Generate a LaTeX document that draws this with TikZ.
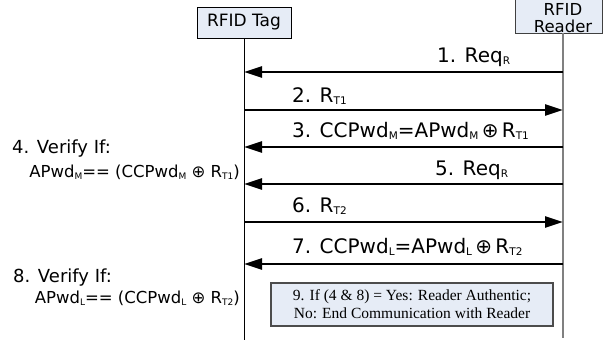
\documentclass[tikz,border=0pt]{standalone}
\usepackage{fontspec}
\setmainfont{DejaVu Sans}
\newfontfamily\boxserif{Liberation Serif}
\usetikzlibrary{arrows.meta}
\definecolor{boxblue}{RGB}{230,236,246}
\definecolor{lifegray}{RGB}{128,128,128}
\newcommand{\sbA}[1]{\raisebox{-2.5pt}{\fontsize{10.5}{10.5}\selectfont #1}}
\newcommand{\sbB}[1]{\raisebox{-2pt}{\fontsize{9}{9}\selectfont #1}}
\begin{document}
\begin{tikzpicture}[x=1pt,y=-1pt,
  actor/.style={draw, fill=boxblue, line width=1pt, inner sep=0pt},
  msg/.style={line width=2.5pt, -{Triangle[length=18pt,width=11pt]}},
  lbl/.style={anchor=base west, inner sep=0pt, font=\fontsize{20}{24}\selectfont},
  side/.style={anchor=base west, inner sep=0pt, font=\fontsize{18}{20}\selectfont},
  formula/.style={anchor=base east, inner sep=0pt, font=\fontsize{16.5}{20}\selectfont},
  boxtxt/.style={anchor=base, inner sep=0pt, font=\fontsize{16.5}{19}\selectfont}
]
\useasboundingbox (0,0) rectangle (603,340);

% actors
\node[actor, minimum width=94pt, minimum height=31pt, font=\fontsize{17}{19}\selectfont] (tag) at (244,22.5) {RFID Tag};
\node[actor, draw=black!75, minimum width=87pt, minimum height=37pt] (reader) at (558.5,14.5) {};
\node[boxtxt] (rd1) at (563,16) {RFID};
\node[boxtxt] (rd2) at (563,32) {Reader};

% lifelines
\coordinate (tagBot) at (244,340);
\coordinate (rTop) at (563,33);
\coordinate (rBot) at (563,338);
\draw[line width=1pt] (tag.south) -- (tagBot);
\draw[lifegray, line width=2.5pt] (rTop) -- (rBot);

% message anchors
\foreach \i/\y in {1/72,2/110,3/147,5/184,6/222,7/264}{
  \coordinate (t\i) at (244,\y);
  \coordinate (r\i) at (563,\y);
}
\draw[msg] (r1) -- (t1);
\draw[msg] (t2) -- (r2);
\draw[msg] (r3) -- (t3);
\draw[msg] (r5) -- (t5);
\draw[msg] (t6) -- (r6);
\draw[msg] (r7) -- (t7);

% message labels
\node[lbl] (l1) at (437,62) {1. Req\sbA{R}};
\node[lbl] (l2) at (292,102) {2. R\sbA{T1}};
\node[lbl] (l3) at (292,137) {3. CCPwd\sbA{M}=APwd\sbA{M}\,⊕\,R\sbA{T1}};
\node[lbl] (l5) at (435,175) {5. Req\sbA{R}};
\node[lbl] (l6) at (292,212) {6. R\sbA{T2}};
\node[lbl] (l7) at (292,253) {7. CCPwd\sbA{L}=APwd\sbA{L}\,⊕\,R\sbA{T2}};

% verification steps
\node[side] (v4) at (12,153) {4. Verify If:};
\node[formula] (c4) at (240,177) {APwd\sbB{M}== (CCPwd\sbB{M} ⊕ R\sbB{T1})};
\node[side] (v8) at (13,282) {8. Verify If:};
\node[formula] (c8) at (240,303) {APwd\sbB{L}== (CCPwd\sbB{L} ⊕ R\sbB{T2})};

% result
\node[draw=black!70, line width=1.2pt, fill=boxblue, minimum width=282pt, minimum height=43pt,
      align=center, inner sep=0pt, font=\boxserif\fontsize{15.5}{18}\selectfont] (res) at (412,304.5)
  {9. If (4 \& 8) = Yes: Reader Authentic;\\No: End Communication with Reader};
\end{tikzpicture}
\end{document}
